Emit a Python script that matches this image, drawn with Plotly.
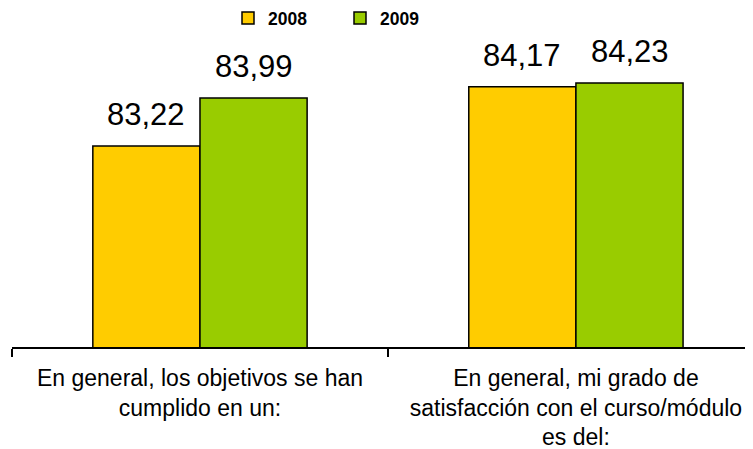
import plotly.graph_objects as go

categories = [
    "En general, los objetivos se han<br>cumplido en un:",
    "En general, mi grado de<br>satisfacción con el curso/módulo<br>es del:",
]
years = ["2008", "2009"]
values_2008 = [83.22, 84.17]
values_2009 = [83.99, 84.23]
colors = ["#FFCC00", "#99CC00"]

font_family = "Arial, Liberation Sans, sans-serif"
bargap = 0.43

fig = go.Figure()
for name, vals, col in zip(years, [values_2008, values_2009], colors):
    fig.add_trace(go.Bar(
        x=categories, y=vals, name=name,
        marker=dict(color=col, line=dict(color="black", width=1.5)),
    ))

# value labels above each bar (grouped offset derived from bargap)
half = (1 - bargap) / 4
for j, vals in enumerate([values_2008, values_2009]):
    off = -half if j == 0 else half
    for i, v in enumerate(vals):
        fig.add_annotation(
            x=i + off, y=v, xref="x", yref="y",
            text=f"{v:.2f}".replace(".", ","),
            showarrow=False, yanchor="bottom", yshift=12,
            font=dict(size=31, color="black", family=font_family),
        )

# page body has an 8px margin, so the figure is sized/offset to compensate
fig.update_layout(
    width=745, height=441,
    margin=dict(l=4, r=0, t=27, b=102, autoexpand=False),
    paper_bgcolor="white", plot_bgcolor="white",
    barmode="group", bargap=bargap, bargroupgap=0,
    font=dict(family=font_family, color="black"),
    showlegend=True,
    legend=dict(
        orientation="h", x=0.2915, xanchor="left", y=1.054, yanchor="middle",
        font=dict(size=17.5, family=font_family, weight="bold"),
        itemwidth=30, entrywidth=67, entrywidthmode="pixels", traceorder="normal",
    ),
)
fig.update_xaxes(
    type="category", range=[-0.5, 1.471], automargin=False,
    showline=True, linecolor="black", linewidth=2,
    ticks="outside", tickson="boundaries", ticklen=8, tickwidth=2, tickcolor="black",
    ticklabelstandoff=9,
    tickfont=dict(size=23, color="black"), showgrid=False,
)
fig.update_yaxes(
    range=[80, 85], visible=False, showgrid=False, zeroline=False,
)

fig.write_html("out.html")
